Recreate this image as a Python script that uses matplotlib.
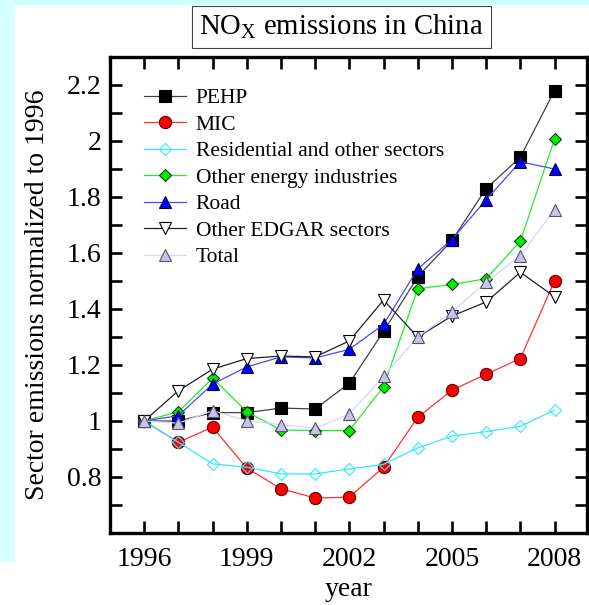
import matplotlib
matplotlib.use("Agg")
import matplotlib.pyplot as plt
from matplotlib.patches import Rectangle
from matplotlib.ticker import MultipleLocator, FixedLocator, FuncFormatter

plt.rcParams['font.family'] = ['Liberation Serif', 'DejaVu Serif']
plt.rcParams['mathtext.fontset'] = 'custom'
plt.rcParams['mathtext.rm'] = 'Liberation Serif'
plt.rcParams['mathtext.it'] = 'Liberation Serif:italic'

years = [1996, 1997, 1998, 1999, 2000, 2001, 2002, 2003, 2004, 2005, 2006, 2007, 2008]

pehp        = [1.00, 1.00, 1.03, 1.03, 1.046, 1.043, 1.135, 1.32, 1.515, 1.645, 1.83, 1.942, 2.18]
mic         = [1.00, 0.924, 0.978, 0.832, 0.758, 0.725, 0.728, 0.835, 1.013, 1.11, 1.167, 1.223, 1.50]
residential = [1.00, 0.924, 0.847, 0.835, 0.811, 0.811, 0.829, 0.845, 0.904, 0.946, 0.962, 0.981, 1.039]
other_energy = [1.00, 1.033, 1.153, 1.033, 0.968, 0.966, 0.966, 1.123, 1.472, 1.488, 1.508, 1.642, 2.006]
road        = [1.00, 1.019, 1.132, 1.193, 1.229, 1.225, 1.256, 1.345, 1.543, 1.648, 1.79, 1.926, 1.90]
other_edgar = [1.00, 1.108, 1.185, 1.223, 1.232, 1.229, 1.286, 1.432, 1.30, 1.375, 1.425, 1.531, 1.444]
total       = [1.00, 0.992, 1.037, 1.001, 0.987, 0.974, 1.025, 1.159, 1.30, 1.389, 1.496, 1.591, 1.754]

labels = ["PEHP", "MIC", "Residential and other sectors", "Other energy industries",
          "Road", "Other EDGAR sectors", "Total"]

year_ticks = [1996, 1999, 2002, 2005, 2008]
value_ticks = [0.8, 1.0, 1.2, 1.4, 1.6, 1.8, 2.0, 2.2]

W, H = 589, 605
fig = plt.figure(figsize=(W / 100, H / 100), dpi=100)
fig.patch.set_facecolor('white')

# light cyan frame along the top and left edges
fig.add_artist(Rectangle((0, 1 - 5 / H), 1, 5 / H, transform=fig.transFigure,
                         facecolor='#ccffff', edgecolor='none', zorder=0))
fig.add_artist(Rectangle((0, 1 - 562 / H), 15 / W, 562 / H, transform=fig.transFigure,
                         facecolor='#d6ffff', edgecolor='none', zorder=0))

ax = fig.add_axes([110 / W, (H - 533) / H, 477 / W, 476 / H])

ms = 8.8
mew = 0.8
styles = [
    dict(color='#404040', marker='s', mfc='black', mec='black', ms=ms * 0.95),
    dict(color='#ff3030', marker='o', mfc='red', mec='#600000', ms=ms),
    dict(color='#33e8ff', marker='D', mfc='none', mec='#33e8ff', ms=ms * 0.72),
    dict(color='#22ee22', marker='D', mfc='#00ee00', mec='#004400', ms=ms * 0.72),
    dict(color='#4848ff', marker='^', mfc='#0000ff', mec='#000044', ms=ms),
    dict(color='#202020', marker='v', mfc='white', mec='black', ms=ms),
    dict(color='#d4d4ff', marker='^', mfc='#c4c4ee', mec='#555566', ms=ms),
]
series = [pehp, mic, residential, other_energy, road, other_edgar, total]

for vals, lab, st in zip(series, labels, styles):
    ax.plot(years, vals, lw=0.9, mew=mew, label=lab, **st)

ax.set_xlim(1995, 2008.95)
ax.set_ylim(0.6, 2.3)
ax.xaxis.set_major_locator(FixedLocator(year_ticks))
ax.xaxis.set_minor_locator(MultipleLocator(1))
ax.yaxis.set_major_locator(FixedLocator(value_ticks))
ax.yaxis.set_minor_locator(MultipleLocator(0.1))
ax.yaxis.set_major_formatter(FuncFormatter(lambda v, p: f"{v:g}"))
ax.xaxis.set_major_formatter(FuncFormatter(lambda v, p: f"{int(round(v))}"))

for s in ax.spines.values():
    s.set_linewidth(2.4)
ax.tick_params(which='both', direction='in', top=True, right=True,
               length=8.5, width=1.9, labelsize=20)
ax.tick_params(axis='x', which='major', pad=10)
ax.tick_params(axis='y', which='major', pad=6)

ax.set_ylabel("Sector emissions normalized to 1996", fontsize=20, labelpad=12)
ax.set_xlabel("year", fontsize=20, labelpad=4)

leg = ax.legend(loc='upper left', bbox_to_anchor=(0.053, 0.953), frameon=False,
                fontsize=15.5, handlelength=1.95, handletextpad=0.45,
                labelspacing=0.3, borderaxespad=0)

fig.text(341.5 / W, 1 - 27 / H, r"NO$_\mathrm{X}$ emissions in China",
         ha='center', va='center', fontsize=20.7,
         bbox=dict(boxstyle='square,pad=0.25', facecolor='white',
                   edgecolor='#444444', linewidth=0.8))

fig.savefig("out.png", dpi=100)
